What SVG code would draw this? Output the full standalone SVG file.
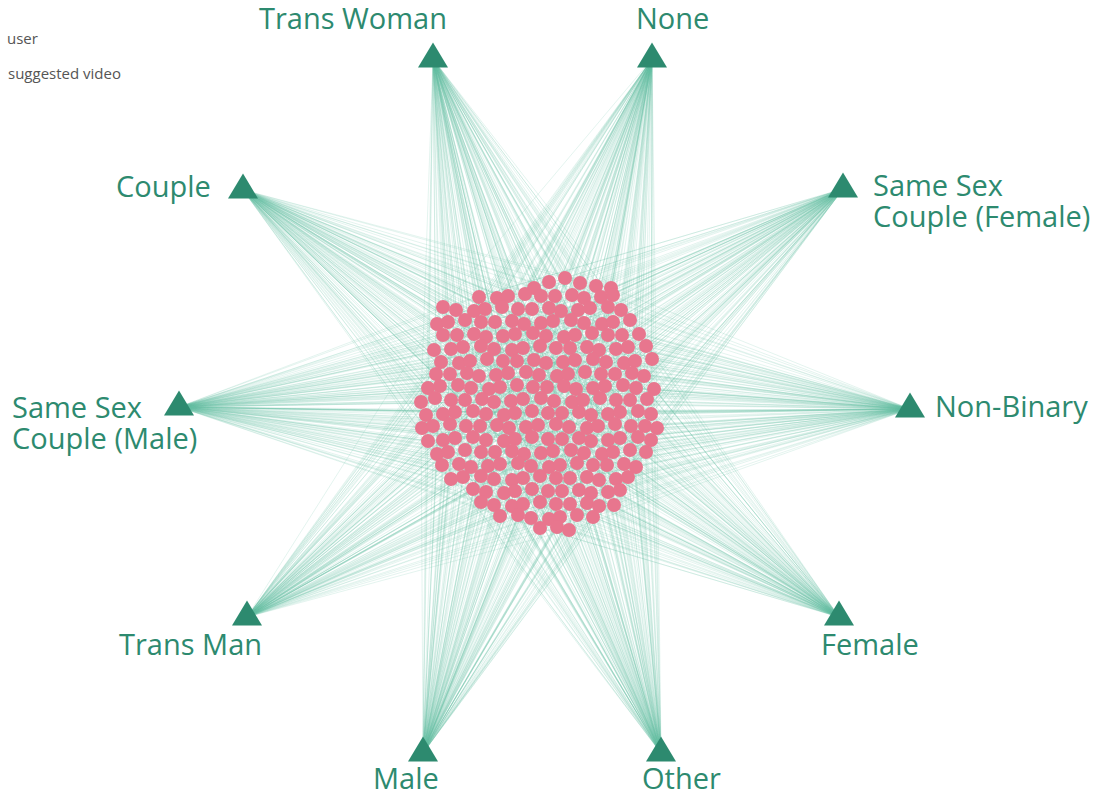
<svg xmlns="http://www.w3.org/2000/svg" xmlns:xlink="http://www.w3.org/1999/xlink" width="1095" height="795" viewBox="0 0 1095 795">
<style>
.e{fill:none;stroke:#66c2a5;stroke-opacity:.24;stroke-width:.75}
.u circle{fill:#e8768e}
.t{fill:#2d8a6f}
.lbl{font-family:"Open Sans","Liberation Sans",sans-serif;font-size:29px;fill:#2d8a6f}
.leg{font-family:"Open Sans","Liberation Sans",sans-serif;font-size:15px;fill:#555}
</style>
<defs>
<path id="tri" d="M0 -16.5L15 8.5H-15Z"/>
</defs>
<rect width="1095" height="795" fill="#fff"/>
<g id="connectors">
<path class="e" d="M433 59L534 288M433 59L565 278M433 59L611 288M433 59L480 296M433 59L596 295M433 59L443 307M433 59L487 309M433 59L532 309M433 59L578 310M433 59L621 310M433 59L457 335M433 59L503 336M433 59L546 336M433 59L592 333M433 59L639 334M433 59L441 362M433 59L487 359M433 59L534 360M433 59L575 360M433 59L624 363M433 59L652 359M433 59L436 374M433 59L644 376M433 59L428 388M433 59L471 388M433 59L517 385M433 59L564 386M433 59L605 386M433 59L654 389M433 59L421 402M433 59L426 415M433 59L473 411M433 59L515 413M433 59L562 413M433 59L608 414M433 59L651 414M433 59L657 428M433 59L428 441M433 59L473 437M433 59L515 439M433 59L562 439M433 59L608 440M433 59L651 440M433 59L437 454M433 59L646 452M433 59L442 465M433 59L488 466M433 59L531 466M433 59L577 463M433 59L624 464M433 59L463 477M433 59L628 477M433 59L473 489M433 59L515 491M433 59L562 491M433 59L608 492M433 59L494 505M433 59L599 506M433 59L500 516M433 59L549 519M433 59L593 517M433 59L540 528"/>
<path class="e" d="M433 59L474 311M433 59L518 309M433 59L561 311M433 59L608 307M433 59L465 320M433 59L512 321M433 59L553 321M433 59L602 324M433 59L474 334M433 59L515 334M433 59L564 337M433 59L622 335M433 59L451 349M433 59L494 349M433 59L540 346M433 59L587 347M433 59L628 347M433 59L459 363M433 59L503 361M433 59L546 363M433 59L593 359M433 59L450 374M433 59L496 375M433 59L539 375M433 59L585 372M433 59L632 373M433 59L458 385M433 59L500 387M433 59L547 387M433 59L593 388M433 59L636 388M433 59L451 400M433 59L494 402M433 59L541 398M433 59L583 400M433 59L630 400M433 59L455 412M433 59L504 415M433 59L548 413M433 59L591 415M433 59L638 411M433 59L450 424M433 59L497 425M433 59L538 425M433 59L587 428M433 59L631 426M433 59L455 438M433 59L504 441M433 59L548 439M433 59L591 441M433 59L638 437M433 59L481 452M433 59L524 454M433 59L571 450M433 59L613 452M433 59L471 467M433 59L518 463M433 59L560 465M433 59L607 465M433 59L494 479M433 59L540 476M433 59L587 477M433 59L532 489M433 59L579 490M433 59L523 504M433 59L570 504M433 59L518 515M433 59L569 530"/>
<path class="e" d="M652 59L534 288M652 59L565 278M652 59L611 288M652 59L480 296M652 59L596 295M652 59L443 307M652 59L487 309M652 59L532 309M652 59L578 310M652 59L621 310M652 59L457 335M652 59L503 336M652 59L546 336M652 59L592 333M652 59L639 334M652 59L441 362M652 59L487 359M652 59L534 360M652 59L575 360M652 59L624 363M652 59L652 359M652 59L436 374M652 59L644 376M652 59L428 388M652 59L471 388M652 59L517 385M652 59L564 386M652 59L605 386M652 59L654 389M652 59L421 402M652 59L426 415M652 59L473 411M652 59L515 413M652 59L562 413M652 59L608 414M652 59L651 414M652 59L657 428M652 59L428 441M652 59L473 437M652 59L515 439M652 59L562 439M652 59L608 440M652 59L651 440M652 59L437 454M652 59L646 452M652 59L442 465M652 59L488 466M652 59L531 466M652 59L577 463M652 59L624 464M652 59L463 477M652 59L628 477M652 59L473 489M652 59L515 491M652 59L562 491M652 59L608 492M652 59L494 505M652 59L599 506M652 59L500 516M652 59L549 519M652 59L593 517M652 59L540 528"/>
<path class="e" d="M652 59L474 311M652 59L518 309M652 59L561 311M652 59L608 307M652 59L465 320M652 59L512 321M652 59L553 321M652 59L602 324M652 59L474 334M652 59L515 334M652 59L564 337M652 59L622 335M652 59L451 349M652 59L494 349M652 59L540 346M652 59L587 347M652 59L628 347M652 59L459 363M652 59L503 361M652 59L546 363M652 59L593 359M652 59L450 374M652 59L496 375M652 59L539 375M652 59L585 372M652 59L632 373M652 59L458 385M652 59L500 387M652 59L547 387M652 59L593 388M652 59L636 388M652 59L451 400M652 59L494 402M652 59L541 398M652 59L583 400M652 59L630 400M652 59L455 412M652 59L504 415M652 59L548 413M652 59L591 415M652 59L638 411M652 59L450 424M652 59L497 425M652 59L538 425M652 59L587 428M652 59L631 426M652 59L455 438M652 59L504 441M652 59L548 439M652 59L591 441M652 59L638 437M652 59L481 452M652 59L524 454M652 59L571 450M652 59L613 452M652 59L471 467M652 59L518 463M652 59L560 465M652 59L607 465M652 59L494 479M652 59L540 476M652 59L587 477M652 59L532 489M652 59L579 490M652 59L523 504M652 59L570 504M652 59L518 515M652 59L569 530"/>
<path class="e" d="M243 190L534 288M243 190L565 278M243 190L611 288M243 190L480 296M243 190L596 295M243 190L443 307M243 190L487 309M243 190L532 309M243 190L578 310M243 190L621 310M243 190L457 335M243 190L503 336M243 190L546 336M243 190L592 333M243 190L639 334M243 190L441 362M243 190L487 359M243 190L534 360M243 190L575 360M243 190L624 363M243 190L652 359M243 190L436 374M243 190L644 376M243 190L428 388M243 190L471 388M243 190L517 385M243 190L564 386M243 190L605 386M243 190L654 389M243 190L421 402M243 190L426 415M243 190L473 411M243 190L515 413M243 190L562 413M243 190L608 414M243 190L651 414M243 190L657 428M243 190L428 441M243 190L473 437M243 190L515 439M243 190L562 439M243 190L608 440M243 190L651 440M243 190L437 454M243 190L646 452M243 190L442 465M243 190L488 466M243 190L531 466M243 190L577 463M243 190L624 464M243 190L463 477M243 190L628 477M243 190L473 489M243 190L515 491M243 190L562 491M243 190L608 492M243 190L494 505M243 190L599 506M243 190L500 516M243 190L549 519M243 190L593 517M243 190L540 528"/>
<path class="e" d="M243 190L474 311M243 190L518 309M243 190L561 311M243 190L608 307M243 190L465 320M243 190L512 321M243 190L553 321M243 190L602 324M243 190L474 334M243 190L515 334M243 190L564 337M243 190L622 335M243 190L451 349M243 190L494 349M243 190L540 346M243 190L587 347M243 190L628 347M243 190L459 363M243 190L503 361M243 190L546 363M243 190L593 359M243 190L450 374M243 190L496 375M243 190L539 375M243 190L585 372M243 190L632 373M243 190L458 385M243 190L500 387M243 190L547 387M243 190L593 388M243 190L636 388M243 190L451 400M243 190L494 402M243 190L541 398M243 190L583 400M243 190L630 400M243 190L455 412M243 190L504 415M243 190L548 413M243 190L591 415M243 190L638 411M243 190L450 424M243 190L497 425M243 190L538 425M243 190L587 428M243 190L631 426M243 190L455 438M243 190L504 441M243 190L548 439M243 190L591 441M243 190L638 437M243 190L481 452M243 190L524 454M243 190L571 450M243 190L613 452M243 190L471 467M243 190L518 463M243 190L560 465M243 190L607 465M243 190L494 479M243 190L540 476M243 190L587 477M243 190L532 489M243 190L579 490M243 190L523 504M243 190L570 504M243 190L518 515M243 190L569 530"/>
<path class="e" d="M843 189L534 288M843 189L565 278M843 189L611 288M843 189L480 296M843 189L596 295M843 189L443 307M843 189L487 309M843 189L532 309M843 189L578 310M843 189L621 310M843 189L457 335M843 189L503 336M843 189L546 336M843 189L592 333M843 189L639 334M843 189L441 362M843 189L487 359M843 189L534 360M843 189L575 360M843 189L624 363M843 189L652 359M843 189L436 374M843 189L644 376M843 189L428 388M843 189L471 388M843 189L517 385M843 189L564 386M843 189L605 386M843 189L654 389M843 189L421 402M843 189L426 415M843 189L473 411M843 189L515 413M843 189L562 413M843 189L608 414M843 189L651 414M843 189L657 428M843 189L428 441M843 189L473 437M843 189L515 439M843 189L562 439M843 189L608 440M843 189L651 440M843 189L437 454M843 189L646 452M843 189L442 465M843 189L488 466M843 189L531 466M843 189L577 463M843 189L624 464M843 189L463 477M843 189L628 477M843 189L473 489M843 189L515 491M843 189L562 491M843 189L608 492M843 189L494 505M843 189L599 506M843 189L500 516M843 189L549 519M843 189L593 517M843 189L540 528"/>
<path class="e" d="M843 189L474 311M843 189L518 309M843 189L561 311M843 189L608 307M843 189L465 320M843 189L512 321M843 189L553 321M843 189L602 324M843 189L474 334M843 189L515 334M843 189L564 337M843 189L622 335M843 189L451 349M843 189L494 349M843 189L540 346M843 189L587 347M843 189L628 347M843 189L459 363M843 189L503 361M843 189L546 363M843 189L593 359M843 189L450 374M843 189L496 375M843 189L539 375M843 189L585 372M843 189L632 373M843 189L458 385M843 189L500 387M843 189L547 387M843 189L593 388M843 189L636 388M843 189L451 400M843 189L494 402M843 189L541 398M843 189L583 400M843 189L630 400M843 189L455 412M843 189L504 415M843 189L548 413M843 189L591 415M843 189L638 411M843 189L450 424M843 189L497 425M843 189L538 425M843 189L587 428M843 189L631 426M843 189L455 438M843 189L504 441M843 189L548 439M843 189L591 441M843 189L638 437M843 189L481 452M843 189L524 454M843 189L571 450M843 189L613 452M843 189L471 467M843 189L518 463M843 189L560 465M843 189L607 465M843 189L494 479M843 189L540 476M843 189L587 477M843 189L532 489M843 189L579 490M843 189L523 504M843 189L570 504M843 189L518 515M843 189L569 530"/>
<path class="e" d="M179 407L534 288M179 407L565 278M179 407L611 288M179 407L480 296M179 407L596 295M179 407L443 307M179 407L487 309M179 407L532 309M179 407L578 310M179 407L621 310M179 407L457 335M179 407L503 336M179 407L546 336M179 407L592 333M179 407L639 334M179 407L441 362M179 407L487 359M179 407L534 360M179 407L575 360M179 407L624 363M179 407L652 359M179 407L436 374M179 407L644 376M179 407L428 388M179 407L471 388M179 407L517 385M179 407L564 386M179 407L605 386M179 407L654 389M179 407L421 402M179 407L426 415M179 407L473 411M179 407L515 413M179 407L562 413M179 407L608 414M179 407L651 414M179 407L657 428M179 407L428 441M179 407L473 437M179 407L515 439M179 407L562 439M179 407L608 440M179 407L651 440M179 407L437 454M179 407L646 452M179 407L442 465M179 407L488 466M179 407L531 466M179 407L577 463M179 407L624 464M179 407L463 477M179 407L628 477M179 407L473 489M179 407L515 491M179 407L562 491M179 407L608 492M179 407L494 505M179 407L599 506M179 407L500 516M179 407L549 519M179 407L593 517M179 407L540 528"/>
<path class="e" d="M179 407L474 311M179 407L518 309M179 407L561 311M179 407L608 307M179 407L465 320M179 407L512 321M179 407L553 321M179 407L602 324M179 407L474 334M179 407L515 334M179 407L564 337M179 407L622 335M179 407L451 349M179 407L494 349M179 407L540 346M179 407L587 347M179 407L628 347M179 407L459 363M179 407L503 361M179 407L546 363M179 407L593 359M179 407L450 374M179 407L496 375M179 407L539 375M179 407L585 372M179 407L632 373M179 407L458 385M179 407L500 387M179 407L547 387M179 407L593 388M179 407L636 388M179 407L451 400M179 407L494 402M179 407L541 398M179 407L583 400M179 407L630 400M179 407L455 412M179 407L504 415M179 407L548 413M179 407L591 415M179 407L638 411M179 407L450 424M179 407L497 425M179 407L538 425M179 407L587 428M179 407L631 426M179 407L455 438M179 407L504 441M179 407L548 439M179 407L591 441M179 407L638 437M179 407L481 452M179 407L524 454M179 407L571 450M179 407L613 452M179 407L471 467M179 407L518 463M179 407L560 465M179 407L607 465M179 407L494 479M179 407L540 476M179 407L587 477M179 407L532 489M179 407L579 490M179 407L523 504M179 407L570 504M179 407L518 515M179 407L569 530"/>
<path class="e" d="M910 409L534 288M910 409L565 278M910 409L611 288M910 409L480 296M910 409L596 295M910 409L443 307M910 409L487 309M910 409L532 309M910 409L578 310M910 409L621 310M910 409L457 335M910 409L503 336M910 409L546 336M910 409L592 333M910 409L639 334M910 409L441 362M910 409L487 359M910 409L534 360M910 409L575 360M910 409L624 363M910 409L652 359M910 409L436 374M910 409L644 376M910 409L428 388M910 409L471 388M910 409L517 385M910 409L564 386M910 409L605 386M910 409L654 389M910 409L421 402M910 409L426 415M910 409L473 411M910 409L515 413M910 409L562 413M910 409L608 414M910 409L651 414M910 409L657 428M910 409L428 441M910 409L473 437M910 409L515 439M910 409L562 439M910 409L608 440M910 409L651 440M910 409L437 454M910 409L646 452M910 409L442 465M910 409L488 466M910 409L531 466M910 409L577 463M910 409L624 464M910 409L463 477M910 409L628 477M910 409L473 489M910 409L515 491M910 409L562 491M910 409L608 492M910 409L494 505M910 409L599 506M910 409L500 516M910 409L549 519M910 409L593 517M910 409L540 528"/>
<path class="e" d="M910 409L474 311M910 409L518 309M910 409L561 311M910 409L608 307M910 409L465 320M910 409L512 321M910 409L553 321M910 409L602 324M910 409L474 334M910 409L515 334M910 409L564 337M910 409L622 335M910 409L451 349M910 409L494 349M910 409L540 346M910 409L587 347M910 409L628 347M910 409L459 363M910 409L503 361M910 409L546 363M910 409L593 359M910 409L450 374M910 409L496 375M910 409L539 375M910 409L585 372M910 409L632 373M910 409L458 385M910 409L500 387M910 409L547 387M910 409L593 388M910 409L636 388M910 409L451 400M910 409L494 402M910 409L541 398M910 409L583 400M910 409L630 400M910 409L455 412M910 409L504 415M910 409L548 413M910 409L591 415M910 409L638 411M910 409L450 424M910 409L497 425M910 409L538 425M910 409L587 428M910 409L631 426M910 409L455 438M910 409L504 441M910 409L548 439M910 409L591 441M910 409L638 437M910 409L481 452M910 409L524 454M910 409L571 450M910 409L613 452M910 409L471 467M910 409L518 463M910 409L560 465M910 409L607 465M910 409L494 479M910 409L540 476M910 409L587 477M910 409L532 489M910 409L579 490M910 409L523 504M910 409L570 504M910 409L518 515M910 409L569 530"/>
<path class="e" d="M247 617L534 288M247 617L565 278M247 617L611 288M247 617L480 296M247 617L596 295M247 617L443 307M247 617L487 309M247 617L532 309M247 617L578 310M247 617L621 310M247 617L457 335M247 617L503 336M247 617L546 336M247 617L592 333M247 617L639 334M247 617L441 362M247 617L487 359M247 617L534 360M247 617L575 360M247 617L624 363M247 617L652 359M247 617L436 374M247 617L644 376M247 617L428 388M247 617L471 388M247 617L517 385M247 617L564 386M247 617L605 386M247 617L654 389M247 617L421 402M247 617L426 415M247 617L473 411M247 617L515 413M247 617L562 413M247 617L608 414M247 617L651 414M247 617L657 428M247 617L428 441M247 617L473 437M247 617L515 439M247 617L562 439M247 617L608 440M247 617L651 440M247 617L437 454M247 617L646 452M247 617L442 465M247 617L488 466M247 617L531 466M247 617L577 463M247 617L624 464M247 617L463 477M247 617L628 477M247 617L473 489M247 617L515 491M247 617L562 491M247 617L608 492M247 617L494 505M247 617L599 506M247 617L500 516M247 617L549 519M247 617L593 517M247 617L540 528"/>
<path class="e" d="M247 617L474 311M247 617L518 309M247 617L561 311M247 617L608 307M247 617L465 320M247 617L512 321M247 617L553 321M247 617L602 324M247 617L474 334M247 617L515 334M247 617L564 337M247 617L622 335M247 617L451 349M247 617L494 349M247 617L540 346M247 617L587 347M247 617L628 347M247 617L459 363M247 617L503 361M247 617L546 363M247 617L593 359M247 617L450 374M247 617L496 375M247 617L539 375M247 617L585 372M247 617L632 373M247 617L458 385M247 617L500 387M247 617L547 387M247 617L593 388M247 617L636 388M247 617L451 400M247 617L494 402M247 617L541 398M247 617L583 400M247 617L630 400M247 617L455 412M247 617L504 415M247 617L548 413M247 617L591 415M247 617L638 411M247 617L450 424M247 617L497 425M247 617L538 425M247 617L587 428M247 617L631 426M247 617L455 438M247 617L504 441M247 617L548 439M247 617L591 441M247 617L638 437M247 617L481 452M247 617L524 454M247 617L571 450M247 617L613 452M247 617L471 467M247 617L518 463M247 617L560 465M247 617L607 465M247 617L494 479M247 617L540 476M247 617L587 477M247 617L532 489M247 617L579 490M247 617L523 504M247 617L570 504M247 617L518 515M247 617L569 530"/>
<path class="e" d="M839 617L534 288M839 617L565 278M839 617L611 288M839 617L480 296M839 617L596 295M839 617L443 307M839 617L487 309M839 617L532 309M839 617L578 310M839 617L621 310M839 617L457 335M839 617L503 336M839 617L546 336M839 617L592 333M839 617L639 334M839 617L441 362M839 617L487 359M839 617L534 360M839 617L575 360M839 617L624 363M839 617L652 359M839 617L436 374M839 617L644 376M839 617L428 388M839 617L471 388M839 617L517 385M839 617L564 386M839 617L605 386M839 617L654 389M839 617L421 402M839 617L426 415M839 617L473 411M839 617L515 413M839 617L562 413M839 617L608 414M839 617L651 414M839 617L657 428M839 617L428 441M839 617L473 437M839 617L515 439M839 617L562 439M839 617L608 440M839 617L651 440M839 617L437 454M839 617L646 452M839 617L442 465M839 617L488 466M839 617L531 466M839 617L577 463M839 617L624 464M839 617L463 477M839 617L628 477M839 617L473 489M839 617L515 491M839 617L562 491M839 617L608 492M839 617L494 505M839 617L599 506M839 617L500 516M839 617L549 519M839 617L593 517M839 617L540 528"/>
<path class="e" d="M839 617L474 311M839 617L518 309M839 617L561 311M839 617L608 307M839 617L465 320M839 617L512 321M839 617L553 321M839 617L602 324M839 617L474 334M839 617L515 334M839 617L564 337M839 617L622 335M839 617L451 349M839 617L494 349M839 617L540 346M839 617L587 347M839 617L628 347M839 617L459 363M839 617L503 361M839 617L546 363M839 617L593 359M839 617L450 374M839 617L496 375M839 617L539 375M839 617L585 372M839 617L632 373M839 617L458 385M839 617L500 387M839 617L547 387M839 617L593 388M839 617L636 388M839 617L451 400M839 617L494 402M839 617L541 398M839 617L583 400M839 617L630 400M839 617L455 412M839 617L504 415M839 617L548 413M839 617L591 415M839 617L638 411M839 617L450 424M839 617L497 425M839 617L538 425M839 617L587 428M839 617L631 426M839 617L455 438M839 617L504 441M839 617L548 439M839 617L591 441M839 617L638 437M839 617L481 452M839 617L524 454M839 617L571 450M839 617L613 452M839 617L471 467M839 617L518 463M839 617L560 465M839 617L607 465M839 617L494 479M839 617L540 476M839 617L587 477M839 617L532 489M839 617L579 490M839 617L523 504M839 617L570 504M839 617L518 515M839 617L569 530"/>
<path class="e" d="M423 753L534 288M423 753L565 278M423 753L611 288M423 753L480 296M423 753L596 295M423 753L443 307M423 753L487 309M423 753L532 309M423 753L578 310M423 753L621 310M423 753L457 335M423 753L503 336M423 753L546 336M423 753L592 333M423 753L639 334M423 753L441 362M423 753L487 359M423 753L534 360M423 753L575 360M423 753L624 363M423 753L652 359M423 753L436 374M423 753L644 376M423 753L428 388M423 753L471 388M423 753L517 385M423 753L564 386M423 753L605 386M423 753L654 389M423 753L421 402M423 753L426 415M423 753L473 411M423 753L515 413M423 753L562 413M423 753L608 414M423 753L651 414M423 753L657 428M423 753L428 441M423 753L473 437M423 753L515 439M423 753L562 439M423 753L608 440M423 753L651 440M423 753L437 454M423 753L646 452M423 753L442 465M423 753L488 466M423 753L531 466M423 753L577 463M423 753L624 464M423 753L463 477M423 753L628 477M423 753L473 489M423 753L515 491M423 753L562 491M423 753L608 492M423 753L494 505M423 753L599 506M423 753L500 516M423 753L549 519M423 753L593 517M423 753L540 528"/>
<path class="e" d="M423 753L474 311M423 753L518 309M423 753L561 311M423 753L608 307M423 753L465 320M423 753L512 321M423 753L553 321M423 753L602 324M423 753L474 334M423 753L515 334M423 753L564 337M423 753L622 335M423 753L451 349M423 753L494 349M423 753L540 346M423 753L587 347M423 753L628 347M423 753L459 363M423 753L503 361M423 753L546 363M423 753L593 359M423 753L450 374M423 753L496 375M423 753L539 375M423 753L585 372M423 753L632 373M423 753L458 385M423 753L500 387M423 753L547 387M423 753L593 388M423 753L636 388M423 753L451 400M423 753L494 402M423 753L541 398M423 753L583 400M423 753L630 400M423 753L455 412M423 753L504 415M423 753L548 413M423 753L591 415M423 753L638 411M423 753L450 424M423 753L497 425M423 753L538 425M423 753L587 428M423 753L631 426M423 753L455 438M423 753L504 441M423 753L548 439M423 753L591 441M423 753L638 437M423 753L481 452M423 753L524 454M423 753L571 450M423 753L613 452M423 753L471 467M423 753L518 463M423 753L560 465M423 753L607 465M423 753L494 479M423 753L540 476M423 753L587 477M423 753L532 489M423 753L579 490M423 753L523 504M423 753L570 504M423 753L518 515M423 753L569 530"/>
<path class="e" d="M661 753L534 288M661 753L565 278M661 753L611 288M661 753L480 296M661 753L596 295M661 753L443 307M661 753L487 309M661 753L532 309M661 753L578 310M661 753L621 310M661 753L457 335M661 753L503 336M661 753L546 336M661 753L592 333M661 753L639 334M661 753L441 362M661 753L487 359M661 753L534 360M661 753L575 360M661 753L624 363M661 753L652 359M661 753L436 374M661 753L644 376M661 753L428 388M661 753L471 388M661 753L517 385M661 753L564 386M661 753L605 386M661 753L654 389M661 753L421 402M661 753L426 415M661 753L473 411M661 753L515 413M661 753L562 413M661 753L608 414M661 753L651 414M661 753L657 428M661 753L428 441M661 753L473 437M661 753L515 439M661 753L562 439M661 753L608 440M661 753L651 440M661 753L437 454M661 753L646 452M661 753L442 465M661 753L488 466M661 753L531 466M661 753L577 463M661 753L624 464M661 753L463 477M661 753L628 477M661 753L473 489M661 753L515 491M661 753L562 491M661 753L608 492M661 753L494 505M661 753L599 506M661 753L500 516M661 753L549 519M661 753L593 517M661 753L540 528"/>
<path class="e" d="M661 753L474 311M661 753L518 309M661 753L561 311M661 753L608 307M661 753L465 320M661 753L512 321M661 753L553 321M661 753L602 324M661 753L474 334M661 753L515 334M661 753L564 337M661 753L622 335M661 753L451 349M661 753L494 349M661 753L540 346M661 753L587 347M661 753L628 347M661 753L459 363M661 753L503 361M661 753L546 363M661 753L593 359M661 753L450 374M661 753L496 375M661 753L539 375M661 753L585 372M661 753L632 373M661 753L458 385M661 753L500 387M661 753L547 387M661 753L593 388M661 753L636 388M661 753L451 400M661 753L494 402M661 753L541 398M661 753L583 400M661 753L630 400M661 753L455 412M661 753L504 415M661 753L548 413M661 753L591 415M661 753L638 411M661 753L450 424M661 753L497 425M661 753L538 425M661 753L587 428M661 753L631 426M661 753L455 438M661 753L504 441M661 753L548 439M661 753L591 441M661 753L638 437M661 753L481 452M661 753L524 454M661 753L571 450M661 753L613 452M661 753L471 467M661 753L518 463M661 753L560 465M661 753L607 465M661 753L494 479M661 753L540 476M661 753L587 477M661 753L532 489M661 753L579 490M661 753L523 504M661 753L570 504M661 753L518 515M661 753L569 530"/>
</g>
<g id="users" class="u">
<circle id="u0" cx="534" cy="288" r="7"/><circle id="u1" cx="549" cy="282" r="7"/><circle id="u2" cx="565" cy="278" r="7"/><circle id="u3" cx="580" cy="283" r="7"/><circle id="u4" cx="596" cy="286" r="7"/><circle id="u5" cx="611" cy="288" r="7"/>
<circle id="u6" cx="479" cy="297" r="7"/><circle id="u7" cx="497" cy="298" r="7"/><circle id="u8" cx="508" cy="296" r="7"/><circle id="u9" cx="525" cy="294" r="7"/><circle id="u10" cx="541" cy="296" r="7"/><circle id="u11" cx="555" cy="296" r="7"/><circle id="u12" cx="572" cy="295" r="7"/><circle id="u13" cx="584" cy="298" r="7"/><circle id="u14" cx="601" cy="297" r="7"/><circle id="u15" cx="613" cy="295" r="7"/>
<circle id="u16" cx="443" cy="307" r="7"/><circle id="u17" cx="456" cy="310" r="7"/><circle id="u18" cx="474" cy="311" r="7"/><circle id="u19" cx="485" cy="309" r="7"/><circle id="u20" cx="502" cy="307" r="7"/><circle id="u21" cx="518" cy="309" r="7"/><circle id="u22" cx="532" cy="309" r="7"/><circle id="u23" cx="549" cy="308" r="7"/><circle id="u24" cx="561" cy="311" r="7"/><circle id="u25" cx="578" cy="310" r="7"/><circle id="u26" cx="590" cy="308" r="7"/><circle id="u27" cx="608" cy="307" r="7"/><circle id="u28" cx="621" cy="310" r="7"/>
<circle id="u29" cx="437" cy="324" r="7"/><circle id="u30" cx="448" cy="322" r="7"/><circle id="u31" cx="465" cy="320" r="7"/><circle id="u32" cx="481" cy="322" r="7"/><circle id="u33" cx="495" cy="322" r="7"/><circle id="u34" cx="512" cy="321" r="7"/><circle id="u35" cx="524" cy="324" r="7"/><circle id="u36" cx="541" cy="323" r="7"/><circle id="u37" cx="553" cy="321" r="7"/><circle id="u38" cx="571" cy="320" r="7"/><circle id="u39" cx="584" cy="323" r="7"/><circle id="u40" cx="602" cy="324" r="7"/><circle id="u41" cx="613" cy="322" r="7"/><circle id="u42" cx="630" cy="320" r="7"/>
<circle id="u43" cx="443" cy="335" r="7"/><circle id="u44" cx="457" cy="335" r="7"/><circle id="u45" cx="474" cy="334" r="7"/><circle id="u46" cx="486" cy="337" r="7"/><circle id="u47" cx="503" cy="336" r="7"/><circle id="u48" cx="515" cy="334" r="7"/><circle id="u49" cx="533" cy="333" r="7"/><circle id="u50" cx="546" cy="336" r="7"/><circle id="u51" cx="564" cy="337" r="7"/><circle id="u52" cx="575" cy="335" r="7"/><circle id="u53" cx="592" cy="333" r="7"/><circle id="u54" cx="608" cy="335" r="7"/><circle id="u55" cx="622" cy="335" r="7"/><circle id="u56" cx="639" cy="334" r="7"/>
<circle id="u57" cx="434" cy="350" r="7"/><circle id="u58" cx="451" cy="349" r="7"/><circle id="u59" cx="463" cy="347" r="7"/><circle id="u60" cx="481" cy="346" r="7"/><circle id="u61" cx="494" cy="349" r="7"/><circle id="u62" cx="512" cy="350" r="7"/><circle id="u63" cx="523" cy="348" r="7"/><circle id="u64" cx="540" cy="346" r="7"/><circle id="u65" cx="556" cy="348" r="7"/><circle id="u66" cx="570" cy="348" r="7"/><circle id="u67" cx="587" cy="347" r="7"/><circle id="u68" cx="599" cy="350" r="7"/><circle id="u69" cx="616" cy="349" r="7"/><circle id="u70" cx="628" cy="347" r="7"/><circle id="u71" cx="646" cy="346" r="7"/>
<circle id="u72" cx="441" cy="362" r="7"/><circle id="u73" cx="459" cy="363" r="7"/><circle id="u74" cx="470" cy="361" r="7"/><circle id="u75" cx="487" cy="359" r="7"/><circle id="u76" cx="503" cy="361" r="7"/><circle id="u77" cx="517" cy="361" r="7"/><circle id="u78" cx="534" cy="360" r="7"/><circle id="u79" cx="546" cy="363" r="7"/><circle id="u80" cx="563" cy="362" r="7"/><circle id="u81" cx="575" cy="360" r="7"/><circle id="u82" cx="593" cy="359" r="7"/><circle id="u83" cx="606" cy="362" r="7"/><circle id="u84" cx="624" cy="363" r="7"/><circle id="u85" cx="635" cy="361" r="7"/><circle id="u86" cx="652" cy="359" r="7"/>
<circle id="u87" cx="436" cy="374" r="7"/><circle id="u88" cx="450" cy="374" r="7"/><circle id="u89" cx="467" cy="373" r="7"/><circle id="u90" cx="479" cy="376" r="7"/><circle id="u91" cx="496" cy="375" r="7"/><circle id="u92" cx="508" cy="373" r="7"/><circle id="u93" cx="526" cy="372" r="7"/><circle id="u94" cx="539" cy="375" r="7"/><circle id="u95" cx="557" cy="376" r="7"/><circle id="u96" cx="568" cy="374" r="7"/><circle id="u97" cx="585" cy="372" r="7"/><circle id="u98" cx="601" cy="374" r="7"/><circle id="u99" cx="615" cy="374" r="7"/><circle id="u100" cx="632" cy="373" r="7"/><circle id="u101" cx="644" cy="376" r="7"/>
<circle id="u102" cx="428" cy="388" r="7"/><circle id="u103" cx="440" cy="386" r="7"/><circle id="u104" cx="458" cy="385" r="7"/><circle id="u105" cx="471" cy="388" r="7"/><circle id="u106" cx="489" cy="389" r="7"/><circle id="u107" cx="500" cy="387" r="7"/><circle id="u108" cx="517" cy="385" r="7"/><circle id="u109" cx="533" cy="387" r="7"/><circle id="u110" cx="547" cy="387" r="7"/><circle id="u111" cx="564" cy="386" r="7"/><circle id="u112" cx="576" cy="389" r="7"/><circle id="u113" cx="593" cy="388" r="7"/><circle id="u114" cx="605" cy="386" r="7"/><circle id="u115" cx="623" cy="385" r="7"/><circle id="u116" cx="636" cy="388" r="7"/><circle id="u117" cx="654" cy="389" r="7"/>
<circle id="u118" cx="421" cy="402" r="7"/><circle id="u119" cx="435" cy="398" r="7"/><circle id="u120" cx="451" cy="400" r="7"/><circle id="u121" cx="465" cy="400" r="7"/><circle id="u122" cx="482" cy="399" r="7"/><circle id="u123" cx="494" cy="402" r="7"/><circle id="u124" cx="511" cy="401" r="7"/><circle id="u125" cx="523" cy="399" r="7"/><circle id="u126" cx="541" cy="398" r="7"/><circle id="u127" cx="554" cy="401" r="7"/><circle id="u128" cx="572" cy="402" r="7"/><circle id="u129" cx="583" cy="400" r="7"/><circle id="u130" cx="600" cy="398" r="7"/><circle id="u131" cx="616" cy="400" r="7"/><circle id="u132" cx="630" cy="400" r="7"/><circle id="u133" cx="647" cy="399" r="7"/>
<circle id="u134" cx="426" cy="415" r="7"/><circle id="u135" cx="443" cy="414" r="7"/><circle id="u136" cx="455" cy="412" r="7"/><circle id="u137" cx="473" cy="411" r="7"/><circle id="u138" cx="486" cy="414" r="7"/><circle id="u139" cx="504" cy="415" r="7"/><circle id="u140" cx="515" cy="413" r="7"/><circle id="u141" cx="532" cy="411" r="7"/><circle id="u142" cx="548" cy="413" r="7"/><circle id="u143" cx="562" cy="413" r="7"/><circle id="u144" cx="579" cy="412" r="7"/><circle id="u145" cx="591" cy="415" r="7"/><circle id="u146" cx="608" cy="414" r="7"/><circle id="u147" cx="620" cy="412" r="7"/><circle id="u148" cx="638" cy="411" r="7"/><circle id="u149" cx="651" cy="414" r="7"/>
<circle id="u150" cx="422" cy="428" r="7"/><circle id="u151" cx="433" cy="426" r="7"/><circle id="u152" cx="450" cy="424" r="7"/><circle id="u153" cx="466" cy="426" r="7"/><circle id="u154" cx="480" cy="426" r="7"/><circle id="u155" cx="497" cy="425" r="7"/><circle id="u156" cx="509" cy="428" r="7"/><circle id="u157" cx="526" cy="427" r="7"/><circle id="u158" cx="538" cy="425" r="7"/><circle id="u159" cx="556" cy="424" r="7"/><circle id="u160" cx="569" cy="427" r="7"/><circle id="u161" cx="587" cy="428" r="7"/><circle id="u162" cx="598" cy="426" r="7"/><circle id="u163" cx="615" cy="424" r="7"/><circle id="u164" cx="631" cy="426" r="7"/><circle id="u165" cx="645" cy="426" r="7"/><circle id="u166" cx="657" cy="428" r="7"/>
<circle id="u167" cx="428" cy="441" r="7"/><circle id="u168" cx="443" cy="440" r="7"/><circle id="u169" cx="455" cy="438" r="7"/><circle id="u170" cx="473" cy="437" r="7"/><circle id="u171" cx="486" cy="440" r="7"/><circle id="u172" cx="504" cy="441" r="7"/><circle id="u173" cx="515" cy="439" r="7"/><circle id="u174" cx="532" cy="437" r="7"/><circle id="u175" cx="548" cy="439" r="7"/><circle id="u176" cx="562" cy="439" r="7"/><circle id="u177" cx="579" cy="438" r="7"/><circle id="u178" cx="591" cy="441" r="7"/><circle id="u179" cx="608" cy="440" r="7"/><circle id="u180" cx="620" cy="438" r="7"/><circle id="u181" cx="638" cy="437" r="7"/><circle id="u182" cx="651" cy="440" r="7"/>
<circle id="u183" cx="437" cy="454" r="7"/><circle id="u184" cx="448" cy="452" r="7"/><circle id="u185" cx="465" cy="450" r="7"/><circle id="u186" cx="481" cy="452" r="7"/><circle id="u187" cx="495" cy="452" r="7"/><circle id="u188" cx="512" cy="451" r="7"/><circle id="u189" cx="524" cy="454" r="7"/><circle id="u190" cx="541" cy="453" r="7"/><circle id="u191" cx="553" cy="451" r="7"/><circle id="u192" cx="571" cy="450" r="7"/><circle id="u193" cx="584" cy="453" r="7"/><circle id="u194" cx="602" cy="454" r="7"/><circle id="u195" cx="613" cy="452" r="7"/><circle id="u196" cx="630" cy="450" r="7"/><circle id="u197" cx="646" cy="452" r="7"/>
<circle id="u198" cx="442" cy="465" r="7"/><circle id="u199" cx="459" cy="464" r="7"/><circle id="u200" cx="471" cy="467" r="7"/><circle id="u201" cx="488" cy="466" r="7"/><circle id="u202" cx="500" cy="464" r="7"/><circle id="u203" cx="518" cy="463" r="7"/><circle id="u204" cx="531" cy="466" r="7"/><circle id="u205" cx="549" cy="467" r="7"/><circle id="u206" cx="560" cy="465" r="7"/><circle id="u207" cx="577" cy="463" r="7"/><circle id="u208" cx="593" cy="465" r="7"/><circle id="u209" cx="607" cy="465" r="7"/><circle id="u210" cx="624" cy="464" r="7"/><circle id="u211" cx="636" cy="467" r="7"/>
<circle id="u212" cx="451" cy="479" r="7"/><circle id="u213" cx="463" cy="477" r="7"/><circle id="u214" cx="481" cy="476" r="7"/><circle id="u215" cx="494" cy="479" r="7"/><circle id="u216" cx="512" cy="480" r="7"/><circle id="u217" cx="523" cy="478" r="7"/><circle id="u218" cx="540" cy="476" r="7"/><circle id="u219" cx="556" cy="478" r="7"/><circle id="u220" cx="570" cy="478" r="7"/><circle id="u221" cx="587" cy="477" r="7"/><circle id="u222" cx="599" cy="480" r="7"/><circle id="u223" cx="616" cy="479" r="7"/><circle id="u224" cx="628" cy="477" r="7"/>
<circle id="u225" cx="473" cy="489" r="7"/><circle id="u226" cx="486" cy="492" r="7"/><circle id="u227" cx="504" cy="493" r="7"/><circle id="u228" cx="515" cy="491" r="7"/><circle id="u229" cx="532" cy="489" r="7"/><circle id="u230" cx="548" cy="491" r="7"/><circle id="u231" cx="562" cy="491" r="7"/><circle id="u232" cx="579" cy="490" r="7"/><circle id="u233" cx="591" cy="493" r="7"/><circle id="u234" cx="608" cy="492" r="7"/><circle id="u235" cx="620" cy="490" r="7"/>
<circle id="u236" cx="481" cy="502" r="7"/><circle id="u237" cx="494" cy="505" r="7"/><circle id="u238" cx="512" cy="506" r="7"/><circle id="u239" cx="523" cy="504" r="7"/><circle id="u240" cx="540" cy="502" r="7"/><circle id="u241" cx="556" cy="504" r="7"/><circle id="u242" cx="570" cy="504" r="7"/><circle id="u243" cx="587" cy="503" r="7"/><circle id="u244" cx="599" cy="506" r="7"/><circle id="u245" cx="614" cy="505" r="7"/>
<circle id="u246" cx="500" cy="516" r="7"/><circle id="u247" cx="518" cy="515" r="7"/><circle id="u248" cx="531" cy="518" r="7"/><circle id="u249" cx="549" cy="519" r="7"/><circle id="u250" cx="560" cy="517" r="7"/><circle id="u251" cx="577" cy="515" r="7"/><circle id="u252" cx="593" cy="517" r="7"/>
<circle id="u253" cx="540" cy="528" r="7"/><circle id="u254" cx="557" cy="527" r="7"/><circle id="u255" cx="569" cy="530" r="7"/>
</g>
<g id="trans-woman"><use href="#tri" x="433" y="59" class="t"/><text class="lbl" x="447" y="29" text-anchor="end">Trans Woman</text></g>
<g id="none"><use href="#tri" x="652" y="59" class="t"/><text class="lbl" x="636" y="29">None</text></g>
<g id="couple"><use href="#tri" x="243" y="190" class="t"/><text class="lbl" x="116" y="197">Couple</text></g>
<g id="same-sex-couple-female"><use href="#tri" x="843" y="189" class="t"/><text class="lbl" x="873" y="196">Same Sex<tspan x="873" dy="31">Couple (Female)</tspan></text></g>
<g id="same-sex-couple-male"><use href="#tri" x="179" y="407" class="t"/><text class="lbl" x="12" y="418">Same Sex<tspan x="12" dy="31">Couple (Male)</tspan></text></g>
<g id="non-binary"><use href="#tri" x="910" y="409" class="t"/><text class="lbl" x="935" y="417">Non-Binary</text></g>
<g id="trans-man"><use href="#tri" x="247" y="617" class="t"/><text class="lbl" x="119" y="655">Trans Man</text></g>
<g id="female"><use href="#tri" x="839" y="617" class="t"/><text class="lbl" x="821" y="655">Female</text></g>
<g id="male"><use href="#tri" x="423" y="753" class="t"/><text class="lbl" x="373" y="789">Male</text></g>
<g id="other"><use href="#tri" x="661" y="753" class="t"/><text class="lbl" x="642" y="789">Other</text></g>
<g id="legend"><text class="leg" x="7" y="44">user</text><text class="leg" x="8" y="79">suggested video</text></g>
</svg>
